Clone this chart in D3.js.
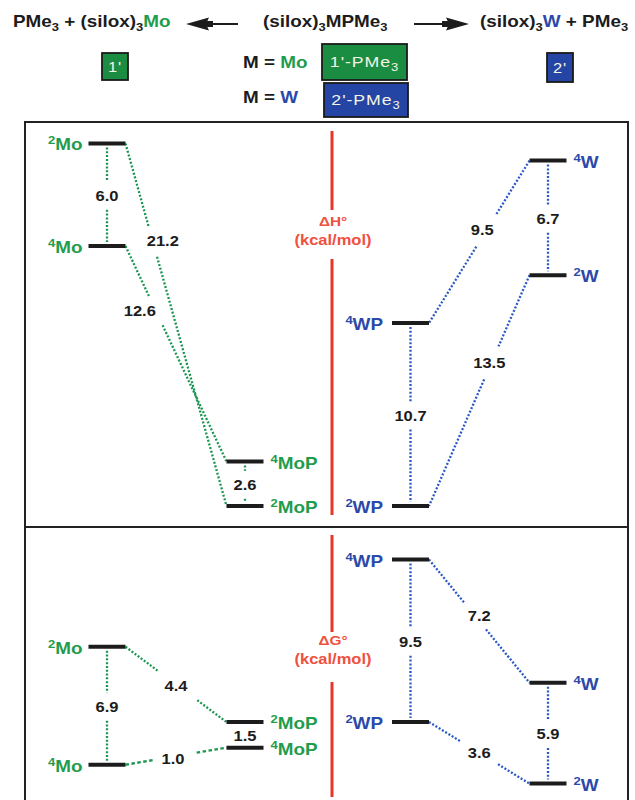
<!DOCTYPE html>
<html>
<head>
<meta charset="utf-8">
<script src="https://cdn.jsdelivr.net/npm/d3@7"></script>
<style>
  body { margin: 0; background: #fff; }
  svg { display: block; }
</style>
</head>
<body>
<script>
// ---- data -------------------------------------------------------------
// energy columns, left to right
const columns = ["Mo", "MoP", "WP", "W"];

// ΔH° (kcal/mol), relative to the doublet phosphine adducts
const enthalpyStates = ["2Mo", "4Mo", "4MoP", "2MoP", "4WP", "2WP", "4W", "2W"];
const enthalpyValues = [21.2, 15.2, 2.6, 0.0, 10.7, 0.0, 20.2, 13.5];
const enthalpyLinks = [
  ["2Mo", "4Mo"], ["2Mo", "2MoP"], ["4Mo", "4MoP"], ["4MoP", "2MoP"],
  ["4W", "2W"], ["4W", "4WP"], ["2W", "2WP"], ["4WP", "2WP"]
];

// ΔG° (kcal/mol), relative to the doublet phosphine adducts
const freeEnergyStates = ["2Mo", "4Mo", "2MoP", "4MoP", "4WP", "2WP", "4W", "2W"];
const freeEnergyValues = [4.4, -2.5, 0.0, -1.5, 9.5, 0.0, 2.3, -3.6];
const freeEnergyLinks = [
  ["2Mo", "4Mo"], ["2Mo", "2MoP"], ["4Mo", "4MoP"], ["2MoP", "4MoP"],
  ["4WP", "2WP"], ["4WP", "4W"], ["4W", "2W"], ["2WP", "2W"]
];

// ---- setup ------------------------------------------------------------
const width = 635, height = 800;
const FONT = "'Liberation Sans', Arial, Helvetica, sans-serif";
const STRETCH = 1.18;
const GREEN = "#1f9c4c", BLUE = "#2c49aa", INK = "#1c1c1c";
const RED = "#e6352a", RED_TEXT = "#ef5040";
const BOX_GREEN = "#1b8d42", BOX_BLUE = "#2445a4";
const LINE_GREEN = "#1a9650", LINE_BLUE = "#2a58c8";

const svg = d3.select("body").append("svg")
  .attr("width", width).attr("height", height)
  .attr("viewBox", `0 0 ${width} ${height}`);

// horizontally widened text, positioned at (x, y)
function stext(parent, x, y, anchor, size, weight) {
  return parent.append("text")
    .attr("transform", `translate(${x},${y}) scale(${STRETCH},1)`)
    .attr("text-anchor", anchor)
    .attr("font-family", FONT)
    .attr("font-size", size)
    .attr("font-weight", weight || "bold");
}

// text made of runs: {t, sub, sup, fill}
function rich(text, parts, baseSize) {
  let shift = 0;
  parts.forEach(p => {
    const target = p.sub ? 4 : p.sup ? -6 : 0;
    const ts = text.append("tspan").text(p.t).attr("dy", target - shift);
    shift = target;
    if (p.sub || p.sup) ts.attr("font-size", Math.round(baseSize * 0.7));
    if (p.fill) ts.attr("fill", p.fill);
  });
  return text;
}

// ---- header -----------------------------------------------------------
const head = svg.append("g");
rich(stext(head, 13, 27, "start", 16).attr("fill", INK),
  [{t: "PMe"}, {t: "3", sub: true}, {t: " + (silox)"}, {t: "3", sub: true}, {t: "Mo", fill: GREEN}], 16);
rich(stext(head, 263, 27, "start", 16).attr("fill", INK),
  [{t: "(silox)"}, {t: "3", sub: true}, {t: "MPMe"}, {t: "3", sub: true}], 16);
rich(stext(head, 480, 27, "start", 16).attr("fill", INK),
  [{t: "(silox)"}, {t: "3", sub: true}, {t: "W", fill: BLUE}, {t: " + PMe"}, {t: "3", sub: true}], 16);

// reaction arrows
head.append("line").attr("x1", 205).attr("x2", 238).attr("y1", 24).attr("y2", 24)
  .attr("stroke", INK).attr("stroke-width", 2);
head.append("path").attr("d", "M186,24 L209,17.5 L206,24 L209,30.5 Z").attr("fill", INK);
head.append("rect").attr("x", 203).attr("y", 21).attr("width", 10).attr("height", 6).attr("fill", INK);
head.append("line").attr("x1", 414).attr("x2", 450).attr("y1", 24).attr("y2", 24)
  .attr("stroke", INK).attr("stroke-width", 2);
head.append("path").attr("d", "M469,24 L446,17.5 L449,24 L446,30.5 Z").attr("fill", INK);
head.append("rect").attr("x", 442).attr("y", 21).attr("width", 10).attr("height", 6).attr("fill", INK);

rich(stext(head, 243, 68, "start", 16).attr("fill", INK), [{t: "M = "}, {t: "Mo", fill: GREEN}], 16);
rich(stext(head, 243, 103, "start", 16).attr("fill", INK), [{t: "M = "}, {t: "W", fill: BLUE}], 16);

// compound boxes
function tagBox(x, y, w, h, fill, parts, size) {
  head.append("rect").attr("x", x).attr("y", y).attr("width", w).attr("height", h)
    .attr("fill", fill).attr("stroke", "#1a1a1a").attr("stroke-width", 1.8);
  rich(stext(head, x + w / 2, y + h / 2 + size * 0.36, "middle", size, "normal")
      .attr("fill", "#f6f4e6").attr("letter-spacing", 0.8), parts, size);
}
tagBox(102, 53, 26, 27, BOX_GREEN, [{t: "1'"}], 14);
tagBox(322, 44, 85, 36, BOX_GREEN, [{t: "1'-PMe"}, {t: "3", sub: true}], 15);
tagBox(324, 83, 84, 34, BOX_BLUE, [{t: "2'-PMe"}, {t: "3", sub: true}], 15);
tagBox(547, 53, 26, 29, BOX_BLUE, [{t: "2'"}], 14);

// ---- frames -----------------------------------------------------------
svg.append("rect").attr("x", 25).attr("y", 122).attr("width", 603).attr("height", 700)
  .attr("fill", "none").attr("stroke", "#222").attr("stroke-width", 2);
svg.append("line").attr("x1", 25).attr("x2", 628).attr("y1", 527).attr("y2", 527)
  .attr("stroke", "#222").attr("stroke-width", 2);

// ---- diagrams ---------------------------------------------------------
const xCol = d3.scaleOrdinal().domain(columns).range([107, 245, 410.5, 548]);
const HALF = 18.5;
const labelSide = {Mo: "left", MoP: "right", WP: "left", W: "right"};
const labelGap = {Mo: 6, MoP: 7, WP: 9, W: 7};

// placement of the values on slanted connectors: fraction along the line,
// offset from it, and the half-length of the break left for the number
const slantLabel = {
  "H:2Mo-2MoP": {t: 0.27, dx: 10, dy: 0, gap: 16},
  "H:4Mo-4MoP": {t: 0.30, dx: -16, dy: 0, gap: 16},
  "H:4W-4WP": {t: 0.43, dx: -4, dy: 0, gap: 19},
  "H:2W-2WP": {t: 0.38, dx: -2, dy: 0, gap: 18},
  "G:2Mo-2MoP": {t: 0.52, dx: -2, dy: 0, gap: 24},
  "G:4Mo-4MoP": {t: 0.49, dx: -2, dy: 3, gap: 22},
  "G:4WP-4W": {t: 0.46, dx: 4, dy: 0, gap: 17},
  "G:2WP-2W": {t: 0.50, dx: 0, dy: 0, gap: 22}
};

const fmt = d3.format(".1f");

function drawPanel(key, states, values, links, y, title, redSegs, titleY) {
  const g = svg.append("g");
  const E = new Map(states.map((s, i) => [s, values[i]]));
  const info = s => {
    const spin = s[0], species = s.slice(1);
    return {spin, species, metal: species.startsWith("Mo") ? "Mo" : "W",
            x: xCol(species), y: y(E.get(s))};
  };

  // red energy axis with its caption
  redSegs.forEach(([a, b]) => g.append("line")
    .attr("x1", 332).attr("x2", 332).attr("y1", a).attr("y2", b)
    .attr("stroke", RED).attr("stroke-width", 3));
  stext(g, 333, titleY, "middle", 13).attr("fill", RED_TEXT).text(title);
  stext(g, 333, titleY + 19, "middle", 14).attr("fill", RED_TEXT).text("(kcal/mol)");

  // connectors
  links.forEach(([a, b]) => {
    const A = info(a), B = info(b);
    const color = A.metal === "Mo" ? LINE_GREEN : LINE_BLUE;
    const value = fmt(Math.abs(E.get(a) - E.get(b)));
    const seg = (x1, y1, x2, y2, dash) => g.append("line")
      .attr("x1", x1).attr("y1", y1).attr("x2", x2).attr("y2", y2)
      .attr("stroke", color).attr("stroke-width", 2.3)
      .attr("stroke-dasharray", dash || "2,1.8");
    let lx, ly;
    if (A.species === B.species) {
      const top = Math.min(A.y, B.y) + 4, bot = Math.max(A.y, B.y) - 4;
      lx = A.x; ly = (top + bot) / 2 + 1;
      const gap = 14;
      if (ly - gap - top > 1) seg(lx, top, lx, ly - gap);
      if (bot - (ly + gap) > 1) seg(lx, ly + gap, lx, bot);
    } else {
      const L = slantLabel[`${key}:${a}-${b}`];
      const dir = B.x > A.x ? 1 : -1;
      const x0 = A.x + dir * HALF, y0 = A.y, x1 = B.x - dir * HALF, y1 = B.y;
      const len = Math.hypot(x1 - x0, y1 - y0);
      const dt = L.gap / len;
      const px = t => x0 + (x1 - x0) * t, py = t => y0 + (y1 - y0) * t;
      const dash = Math.abs(y1 - y0) < 25 ? "3.5,2.5" : null;
      seg(x0, y0, px(L.t - dt), py(L.t - dt), dash);
      seg(px(L.t + dt), py(L.t + dt), x1, y1, dash);
      lx = px(L.t) + L.dx; ly = py(L.t) + L.dy;
    }
    stext(g, lx, ly + 5, "middle", 14).attr("fill", INK).text(value);
  });

  // levels and their names
  states.forEach(s => {
    const S = info(s);
    g.append("line").attr("x1", S.x - HALF).attr("x2", S.x + HALF)
      .attr("y1", S.y).attr("y2", S.y)
      .attr("stroke", INK).attr("stroke-width", 4);
    const left = labelSide[S.species] === "left";
    const gap = labelGap[S.species];
    const t = stext(g, left ? S.x - HALF - gap : S.x + HALF + gap, S.y + 7,
      left ? "end" : "start", 16).attr("fill", S.metal === "Mo" ? GREEN : BLUE);
    rich(t, [{t: S.spin, sup: true}, {t: S.species}], 16);
  });
}

const yH = d3.scaleLinear().domain([0, 20]).range([506, 164]);
const yG = d3.scaleLinear().domain([0, 10]).range([722, 551]);

drawPanel("H", enthalpyStates, enthalpyValues, enthalpyLinks, yH,
  "\u0394H\u00b0", [[131, 210], [259, 515]], 226);
drawPanel("G", freeEnergyStates, freeEnergyValues, freeEnergyLinks, yG,
  "\u0394G\u00b0", [[535, 632], [682, 797]], 645);
</script>
</body>
</html>
